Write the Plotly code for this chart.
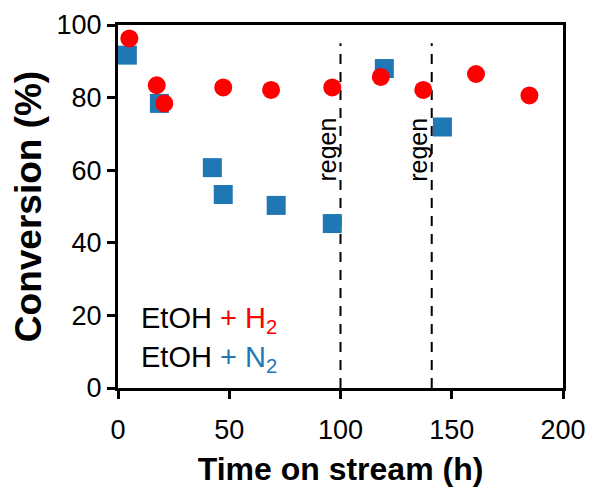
import plotly.graph_objects as go

# Data
h2_time = [5.1, 17.4, 20.8, 47.3, 68.8, 96.3, 118.1, 137.2, 160.9, 184.9]
h2_conv = [96.3, 83.4, 78.4, 82.8, 82.1, 82.8, 85.7, 82.1, 86.5, 80.6]

n2_time = [4.2, 18.6, 42.4, 47.3, 71.1, 96.3, 119.7, 145.8]
n2_conv = [91.7, 78.4, 60.7, 53.3, 50.3, 45.3, 88.0, 71.9]

regen_times = [100, 141]
regen_top = 95
regen_label = "regen"

x_ticks = [0, 50, 100, 150, 200]
y_ticks = [0, 20, 40, 60, 80, 100]

FONT = "Arial, Liberation Sans, sans-serif"
RED = "#FF0000"
BLUE = "#1F77B4"

fig = go.Figure()

for t in regen_times:
    fig.add_trace(go.Scatter(
        x=[t, t], y=[0, regen_top], mode="lines",
        line=dict(color="black", width=2, dash="10px,8px"),
        showlegend=False, hoverinfo="skip"))

fig.add_trace(go.Scatter(
    x=n2_time, y=n2_conv, mode="markers", name="EtOH + N2",
    marker=dict(symbol="square", size=19, color=BLUE),
    cliponaxis=False, showlegend=False))

fig.add_trace(go.Scatter(
    x=h2_time, y=h2_conv, mode="markers", name="EtOH + H2",
    marker=dict(symbol="circle", size=18, color=RED),
    cliponaxis=False, showlegend=False))

for t in regen_times:
    fig.add_annotation(
        x=t - 6.5, y=65.7, xref="x", yref="y", text=regen_label,
        textangle=-90, showarrow=False,
        font=dict(family=FONT, size=25, color="black"),
        xanchor="center", yanchor="middle")

fig.add_annotation(
    x=9.4, y=18.6, xref="x", yref="y",
    text=f"EtOH <span style='color:{RED}'>+ H<sub>2</sub></span>",
    showarrow=False, xanchor="left", yanchor="middle",
    font=dict(family=FONT, size=29, color="black"))
fig.add_annotation(
    x=9.4, y=8.0, xref="x", yref="y",
    text=f"EtOH <span style='color:{BLUE}'>+ N<sub>2</sub></span>",
    showarrow=False, xanchor="left", yanchor="middle",
    font=dict(family=FONT, size=29, color="black"))

axis_common = dict(
    showline=True, linewidth=3, linecolor="black", mirror=True,
    ticks="outside", ticklen=8, tickwidth=3, tickcolor="black",
    showgrid=False, zeroline=False, automargin=False,
    tickfont=dict(family=FONT, size=27, color="black"))

fig.update_xaxes(range=[0, 200], tickvals=x_ticks, ticklabelstandoff=8,
                 title=dict(text="<b>Time on stream (h)</b>",
                            font=dict(family=FONT, size=32, color="black"),
                            standoff=14),
                 **axis_common)
fig.update_yaxes(range=[0, 100], tickvals=y_ticks,
                 title=dict(text="<b>Conversion (%)</b>",
                            font=dict(family=FONT, size=37, color="black"),
                            standoff=4),
                 **axis_common)

fig.update_layout(
    width=590, height=490,
    margin=dict(l=118, r=27, t=25, b=102),
    plot_bgcolor="white", paper_bgcolor="white",
    font=dict(family=FONT),
)

fig.write_html("out.html")
